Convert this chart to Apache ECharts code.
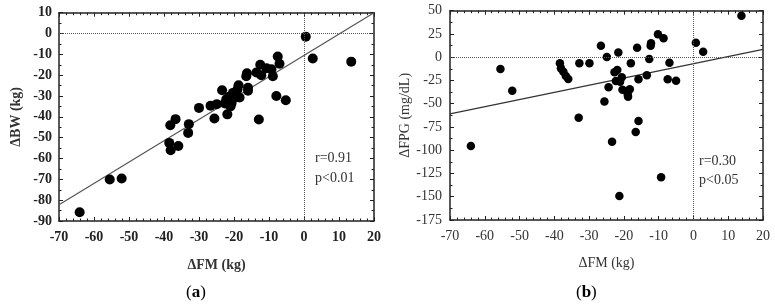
<!DOCTYPE html>
<html>
<head>
<meta charset="utf-8">
<script src="https://cdn.jsdelivr.net/npm/echarts@6/dist/echarts.min.js"></script>
<style>
  html, body { margin: 0; padding: 0; background: #fff; }
  #main { width: 775px; height: 307px; }
</style>
</head>
<body>
<div id="main"></div>
<script>
// (a) change in fat mass vs change in body weight, kg
const pointsA = [
  [0.5, -1.5], [2.5, -12], [13.5, -13.5], [-7.5, -11], [-7, -14.5], [-12.5, -15],
  [-10.7, -16.7], [-9.3, -17.2], [-13.6, -18.7], [-12.2, -20], [-8.9, -20.5],
  [-16.3, -19.1], [-16.5, -20.5], [-7.9, -30], [-5.2, -32], [-12.9, -41.3],
  [-16, -26], [-16, -27.5], [-18.7, -24.8], [-19, -26.8], [-18.4, -30.7],
  [-20.3, -28.5], [-21.4, -30.4], [-23.4, -27.2], [-22.2, -31.6], [-22.6, -33.6],
  [-20.7, -33.6], [-21.9, -38.8], [-25.6, -40.8], [-24.9, -33.9], [-26.7, -34.7],
  [-30, -35.7], [-32.9, -43.5], [-33.1, -47.7], [-36.7, -41.1], [-38.2, -44],
  [-38.5, -52.5], [-38.1, -56], [-35.9, -54], [-55.5, -70.1], [-52.1, -69.6],
  [-64.1, -85.8], [-20, -31], [-19.5, -29], [-21, -35]
];
const fitA = [[-70, -82.2], [20, 10]];

// (b) change in fat mass vs change in fasting plasma glucose
const pointsB = [
  [-64, -95.5], [-55.5, -12.7], [-52.1, -36], [-38.4, -6.6], [-38.1, -12],
  [-37.4, -15.6], [-36.7, -20.2], [-36, -23.4], [-32.8, -6.6], [-29.9, -6.6],
  [-33, -65], [-26.6, 12.4], [-24.9, 0.3], [-21.6, 5], [-25.6, -47.5],
  [-24.4, -32.4], [-22.7, -16.2], [-21.9, -13.8], [-22.3, -25.6], [-21.1, -26.3],
  [-20.6, -21.6], [-20.4, -35], [-18.9, -40], [-18.3, -34.5], [-18.8, -42.5],
  [-18, -6.6], [-16.2, 10.2], [-15.8, -23.8], [-12.7, -2], [-13.4, -19.5],
  [-12.2, 15], [-12.3, 12.4], [-10.2, 24.8], [-8.6, 20.3], [-6.9, -5.9],
  [-7.4, -23.8], [-5, -25.3], [0.7, 15.6], [2.8, 5.9], [13.8, 44.6],
  [-16.6, -80.3], [-15.8, -68.6], [-23.4, -91], [-9.3, -129.1], [-21.3, -149.2]
];
const fitB = [[-70, -61], [20, 8.5]];

const statsA = ['r=0.91', 'p<0.01'];
const statsB = ['r=0.30', 'p<0.05'];

const serif = 'Liberation Serif';
const chart = echarts.init(document.getElementById('main'));

function frameAxis(base, extra) {
  return Object.assign({
    type: 'value',
    axisLine: { show: true, onZero: false, lineStyle: { color: '#222', width: 1.5 } },
    axisTick: { show: true, inside: true, length: 4, lineStyle: { color: '#222', width: 1 } },
    minorTick: { show: true, splitNumber: 5, length: 2.5, lineStyle: { color: '#222', width: 1 } },
    splitLine: { show: false },
    axisLabel: { show: false }
  }, base, extra || {});
}

function labelStyle(bold) {
  return { show: true, fontFamily: serif, fontSize: 14, color: bold ? '#222' : '#333',
           fontWeight: bold ? 'bold' : 'normal' };
}

const refLines = {
  silent: true,
  symbol: ['none', 'none'],
  label: { show: false },
  lineStyle: { type: 'dotted', color: '#555', width: 1 },
  data: [{ xAxis: 0 }, { yAxis: 0 }]
};

const option = {
  backgroundColor: '#fff',
  animation: false,
  grid: [
    { left: 59, right: 401, top: 12.7, bottom: 86 },
    { left: 450, right: 12, top: 10.7, bottom: 87 }
  ],
  xAxis: [
    frameAxis({ gridIndex: 0, min: -70, max: 20, interval: 10, position: 'bottom',
      axisLabel: Object.assign(labelStyle(true), { margin: 9 }),
      name: 'ΔFM (kg)', nameLocation: 'middle', nameGap: 37,
      nameTextStyle: { fontFamily: serif, fontSize: 14, color: '#333', fontWeight: 'bold' } }),
    frameAxis({ gridIndex: 0, min: -70, max: 20, interval: 10, position: 'top' }),
    frameAxis({ gridIndex: 1, min: -70, max: 20, interval: 10, position: 'bottom',
      axisLabel: Object.assign(labelStyle(false), { margin: 9 }),
      name: 'ΔFM (kg)', nameLocation: 'middle', nameGap: 36,
      nameTextStyle: { fontFamily: serif, fontSize: 14, color: '#333' } }),
    frameAxis({ gridIndex: 1, min: -70, max: 20, interval: 10, position: 'top' })
  ],
  yAxis: [
    frameAxis({ gridIndex: 0, min: -90, max: 10, interval: 10, position: 'left',
      minorTick: { show: true, splitNumber: 2, length: 2.5, lineStyle: { color: '#222' } },
      axisLabel: Object.assign(labelStyle(true), { margin: 7 }),
      name: 'ΔBW (kg)', nameLocation: 'middle', nameGap: 36, nameRotate: 90,
      nameTextStyle: { fontFamily: serif, fontSize: 14, color: '#333', fontWeight: 'bold' } }),
    frameAxis({ gridIndex: 0, min: -90, max: 10, interval: 10, position: 'right',
      minorTick: { show: true, splitNumber: 2, length: 2.5, lineStyle: { color: '#222' } } }),
    frameAxis({ gridIndex: 1, min: -175, max: 50, interval: 25, position: 'left',
      minorTick: { show: true, splitNumber: 2, length: 2.5, lineStyle: { color: '#222' } },
      axisLabel: Object.assign(labelStyle(false), { margin: 8 }),
      name: 'ΔFPG (mg/dL)', nameLocation: 'middle', nameGap: 37, nameRotate: 90,
      nameTextStyle: { fontFamily: serif, fontSize: 14, color: '#333' } }),
    frameAxis({ gridIndex: 1, min: -175, max: 50, interval: 25, position: 'right',
      minorTick: { show: true, splitNumber: 2, length: 2.5, lineStyle: { color: '#222' } } })
  ],
  series: [
    { type: 'scatter', xAxisIndex: 0, yAxisIndex: 0, data: pointsA, symbolSize: 10,
      itemStyle: { color: '#000', opacity: 1 }, markLine: refLines, z: 3 },
    { type: 'line', xAxisIndex: 0, yAxisIndex: 0, data: fitA, showSymbol: false,
      lineStyle: { color: '#555', width: 1.2 }, z: 2 },
    { type: 'scatter', xAxisIndex: 2, yAxisIndex: 2, data: pointsB, symbolSize: 8.5,
      itemStyle: { color: '#000', opacity: 1 }, markLine: refLines, z: 3 },
    { type: 'line', xAxisIndex: 2, yAxisIndex: 2, data: fitB, showSymbol: false,
      lineStyle: { color: '#333', width: 1.2 }, z: 2 }
  ],
  graphic: [
    { type: 'text', left: 315, top: 148,
      style: { text: statsA.join('\n'), font: '14px "Liberation Serif"', fill: '#333', lineHeight: 20 } },
    { type: 'text', left: 699, top: 152,
      style: { text: statsB.join('\n'), font: '14px "Liberation Serif"', fill: '#333', lineHeight: 19 } },
    { type: 'text', left: 186, top: 284,
      style: { text: '({b|a})', font: '17px "Liberation Serif"', fill: '#000',
        rich: { b: { fontWeight: 'bold', fontSize: 17, fontFamily: serif } } } },
    { type: 'text', left: 576, top: 284,
      style: { text: '({b|b})', font: '17px "Liberation Serif"', fill: '#000',
        rich: { b: { fontWeight: 'bold', fontSize: 17, fontFamily: serif } } } }
  ]
};

chart.setOption(option);
</script>
</body>
</html>
